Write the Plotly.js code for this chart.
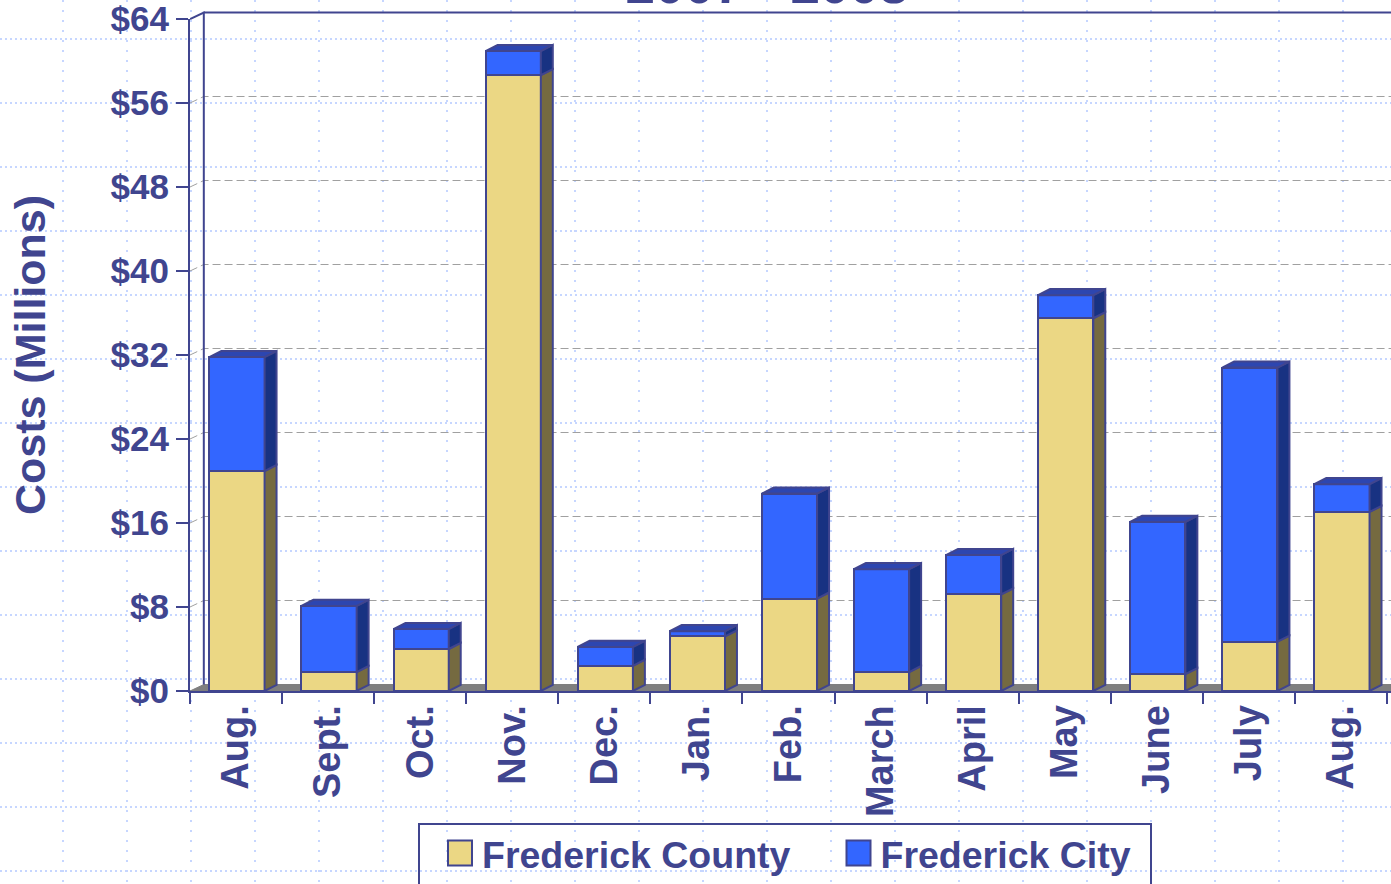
<!DOCTYPE html>
<html>
<head>
<meta charset="utf-8">
<script src="https://cdn.plot.ly/plotly-3.0.1.min.js"></script>
<style>html,body{margin:0;padding:0;background:#fff;overflow:hidden}</style>
</head>
<body>
<div id="chart" style="width:1391px;height:884px"></div>
<script>
const monthLabels = ['Aug.','Sept.','Oct.','Nov.','Dec.','Jan.','Feb.','March','April','May','June','July','Aug.'];
const countyValues = [20.95,1.8,4.0,58.65,2.4,5.2,8.8,1.8,9.2,35.5,1.6,4.7,17.05];
const cityValues = [10.85,6.3,1.9,2.3,1.8,0.5,10.0,9.8,3.75,2.2,14.5,26.1,2.65];
const yTickValues = [0,8,16,24,32,40,48,56,64];
const yTickLabels = ['$0','$8','$16','$24','$32','$40','$48','$56','$64'];

const W = 1391, H = 884;
const NAVY = '#40458f';
const FONT = 'Liberation Sans, Arial, sans-serif';
const pos = monthLabels.map((_, i) => i);
const barHalf = 0.29, barW = 0.6;
const dx = 0.13, dy = 0.58;      // bar depth (axis units)
const wx = 0.15, wy = 6.5/10.5;  // wall depth (axis units)
const xEnd = 12.543;
const y2Top = 691/10.5;

function polys(builder) {
  const xs = [], ys = [];
  pos.forEach(i => {
    const p = builder(i);
    xs.push(...p[0], null); ys.push(...p[1], null);
  });
  return [xs, ys];
}
const totals = countyValues.map((v, i) => v + cityValues[i]);
const sideCounty = polys(i => { const r = i - barHalf + barW; return [[r, r+dx, r+dx, r, r], [0, dy, countyValues[i]+dy, countyValues[i], 0]]; });
const sideCity = polys(i => { const r = i - barHalf + barW; return [[r, r+dx, r+dx, r, r], [countyValues[i], countyValues[i]+dy, totals[i]+dy, totals[i], countyValues[i]]]; });
const topCity = polys(i => { const l = i - barHalf, r = l + barW; return [[l, l+dx, r+dx, r, l], [totals[i], totals[i]+dy, totals[i]+dy, totals[i], totals[i]]]; });

const polyTrace = (p, color) => ({type:'scatter', mode:'lines', x:p[0], y:p[1], xaxis:'x3', yaxis:'y3', fill:'toself', fillcolor:color,
  line:{color:NAVY, width:2}, showlegend:false, hoverinfo:'skip'});

const traces = [
  {type:'scatter', x:[], y:[], xaxis:'x', yaxis:'y', showlegend:false, hoverinfo:'skip'},
  {type:'scatter', mode:'lines', x:[-0.5,-0.5+wx,xEnd,xEnd,-0.5], y:[0,wy,wy,0,0], xaxis:'x2', yaxis:'y2', fill:'toself', fillcolor:'#7f7f7f',
    line:{color:'#7f7f7f', width:1}, showlegend:false, hoverinfo:'skip'},
];
yTickValues.slice(1,-1).forEach(v => traces.push({type:'scatter', mode:'lines', x:[-0.5,-0.5+wx,xEnd], y:[v,v+wy,v+wy], xaxis:'x2', yaxis:'y2',
  line:{color:'#a0a0a0', width:1, dash:'8px,4px'}, showlegend:false, hoverinfo:'skip'}));
traces.push({type:'scatter', mode:'lines', x:[-0.5,-0.5+wx,-0.5+wx,-0.5+wx,xEnd], y:[64,64+wy,wy,64+wy,64+wy], xaxis:'x2', yaxis:'y2',
  line:{color:NAVY, width:2}, showlegend:false, hoverinfo:'skip'});
traces.push(
  {type:'bar', name:'Frederick County', x:pos, y:countyValues, xaxis:'x3', yaxis:'y3', width:barW, offset:-barHalf,
    marker:{color:'#ebd784', line:{color:NAVY, width:2}}},
  {type:'bar', name:'Frederick City', x:pos, y:cityValues, xaxis:'x3', yaxis:'y3', width:barW, offset:-barHalf,
    marker:{color:'#3366ff', line:{color:NAVY, width:2}}},
  polyTrace(sideCounty, '#756a40'), polyTrace(sideCity, '#183282'), polyTrace(topCity, '#2d46b0')
);

const xDom = [190/W, 1], yDom = [1-691/H, 1-19/H];
const tickFont = {family:FONT, size:35, color:NAVY, weight:700};
const xTickFont = {family:FONT, size:38, color:NAVY, weight:700};
const boundaries = [-0.5,0.5,1.5,2.5,3.5,4.5,5.5,6.5,7.5,8.5,9.5,10.5,11.5,12.5];

const layout = {
  width:W, height:H, margin:{l:0,r:0,t:0,b:0,pad:0,autoexpand:false}, paper_bgcolor:'#fff', plot_bgcolor:'rgba(0,0,0,0)',
  barmode:'stack', hovermode:false, font:{family:FONT, color:NAVY},
  title:{text:'2007 - 2008', font:{family:FONT, size:53, color:NAVY, weight:700}, x:767/W, xanchor:'center', xref:'paper', yref:'paper', y:1-3/H, yanchor:'bottom', automargin:false},
  xaxis:{domain:[0,1], range:[0,W], anchor:'y', showticklabels:false, ticks:'', zeroline:false, showgrid:true, tick0:63, dtick:64,
    gridcolor:'#c6d6ff', gridwidth:2, griddash:'2px,8px'},
  yaxis:{domain:[0,1], range:[H,0], anchor:'x', showticklabels:false, ticks:'', zeroline:false, showgrid:true, tick0:39, dtick:64,
    gridcolor:'#c6d6ff', gridwidth:2, griddash:'2px,3px'},
  xaxis2:{domain:xDom, range:[-0.5,xEnd], anchor:'y2', tickmode:'array', tickvals:boundaries, ticktext:boundaries.map(()=>''), ticks:'outside', ticklen:12, tickwidth:2, tickcolor:NAVY,
    showgrid:false, zeroline:false, showline:false},
  yaxis2:{domain:[1-691/H,1], range:[0,y2Top], anchor:'x2', showticklabels:false, ticks:'', showgrid:false, zeroline:false, showline:false},
  xaxis3:{domain:xDom, range:[-0.5,xEnd], anchor:'y3', tickmode:'array', tickvals:pos, ticktext:monthLabels, ticks:'', tickangle:-90, tickfont:xTickFont, ticklabelstandoff:-3,
    ticklabeloverflow:'allow', showgrid:false, zeroline:false, showline:true, linecolor:NAVY, linewidth:2, automargin:false},
  yaxis3:{domain:yDom, range:[0,64], anchor:'x3', tickmode:'array', tickvals:yTickValues, ticktext:yTickLabels, ticks:'outside', ticklen:12, tickwidth:2, tickcolor:NAVY, tickfont:tickFont,
    ticklabeloverflow:'allow', showgrid:false, zeroline:false, showline:true, linecolor:NAVY, linewidth:2, automargin:false,
    title:{text:'Costs (Millions)', font:{family:FONT, size:43, color:NAVY, weight:700}, standoff:52}},
  showlegend:true,
  legend:{orientation:'h', x:442/W, xanchor:'left', y:1-822/H, yanchor:'top', font:{family:FONT, size:37.5, color:NAVY, weight:700},
    bgcolor:'rgba(0,0,0,0)', borderwidth:0, itemwidth:30, entrywidth:353.5, entrywidthmode:'pixels', traceorder:'normal', itemclick:false, itemdoubleclick:false},
  shapes:[{type:'rect', xref:'paper', yref:'paper', x0:419/W, x1:1151/W, y0:-0.1, y1:1-824/H, line:{color:NAVY, width:2}, fillcolor:'rgba(0,0,0,0)', layer:'above'}]
};

Plotly.newPlot('chart', traces, layout, {displayModeBar:false, responsive:false}).then(gd => {
  gd.querySelectorAll('.legend .legendpoints path').forEach(p => {
    p.setAttribute('d','M10,12.5H-14V-12.5H10Z');
  });
});
</script>
</body>
</html>
